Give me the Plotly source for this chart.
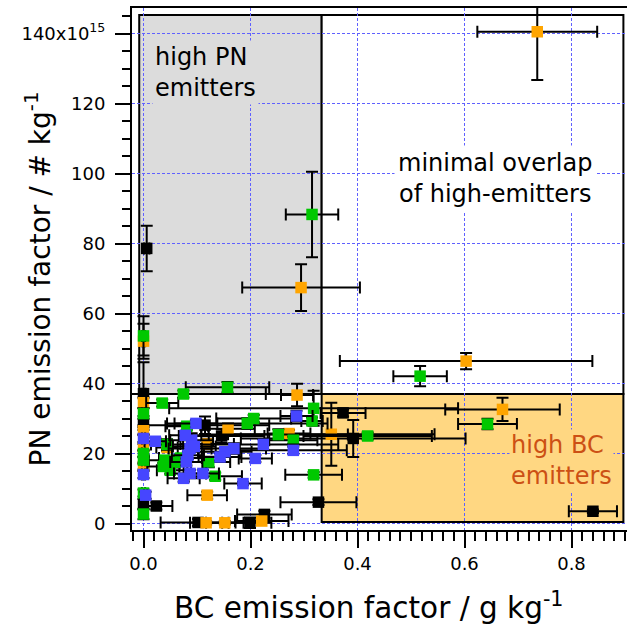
import plotly.graph_objects as go

# ---------------- data (BC EF in g/kg, PN EF in 1e15 #/kg) ----------------
black_x  = [0.006, 0.000, 0.000, 0.000, 0.024, 0.115, 0.146, 0.102, 0.199, 0.226, 0.327, 0.373, 0.392, 0.840]
black_y  = [78.6, 37.1, 28.7, 5.5, 5.0, 28.1, 25.0, 0.3, 0.2, 2.6, 6.1, 31.6, 24.3, 3.5]
black_xe = [0.005, 0.004, 0.003, 0.003, 0.030, 0.120, 0.080, 0.070, 0.040, 0.051, 0.071, 0.042, 0.210, 0.045]
black_ye = [6.5, 9.0, 2.0, 1.5, 1.0, 2.5, 2.0, 1.0, 1.5, 1.0, 0.8, 1.0, 5.3, 0.5]

orange_x  = [0.736, 0.2945, 0.603, 0.000, 0.671, 0.287, 0.351, 0.000, 0.000, 0.000, 0.000, 0.158, 0.272, 0.119, 0.044, 0.119, 0.117, 0.152, 0.221]
orange_y  = [140.5, 67.4, 46.4, 52.1, 32.6, 36.7, 25.5, 34.5, 26.5, 21.7, 16.4, 27.1, 25.7, 22.7, 21.7, 8.1, 0.2, 0.2, 0.7]
orange_xe = [0.112, 0.110, 0.236, 0.003, 0.107, 0.030, 0.193, 0.003, 0.003, 0.003, 0.003, 0.050, 0.040, 0.050, 0.020, 0.037, 0.030, 0.035, 0.050]
orange_ye = [13.8, 6.7, 2.3, 5.0, 3.3, 3.2, 9.0, 1.5, 1.0, 1.0, 1.0, 1.5, 1.0, 1.5, 1.0, 1.0, 0.5, 0.5, 0.5]

green_x  = [0.315, 0.517, 0.643, 0.000, 0.000, 0.000, 0.000, 0.000, 0.000, 0.157, 0.0746, 0.035, 0.318, 0.315, 0.419,
            0.318, 0.206, 0.194, 0.081, 0.252, 0.280, 0.044, 0.040, 0.059, 0.050, 0.069, 0.037, 0.122, 0.134]
green_y  = [88.3, 42.1, 28.4, 53.6, 31.4, 20.0, 18.1, 8.7, 2.7, 38.9, 37.0, 34.4, 32.9, 29.3, 25.0,
            13.9, 30.0, 28.6, 27.8, 25.4, 23.8, 22.6, 18.1, 17.5, 15.2, 18.7, 16.3, 17.6, 13.5]
green_xe = [0.049, 0.050, 0.055, 0.003, 0.003, 0.003, 0.003, 0.003, 0.003, 0.078, 0.154, 0.030, 0.270, 0.020, 0.120,
            0.053, 0.070, 0.150, 0.040, 0.130, 0.045, 0.030, 0.030, 0.030, 0.025, 0.040, 0.030, 0.040, 0.050]
green_ye = [12.2, 2.9, 1.5, 5.6, 1.5, 1.0, 1.0, 1.0, 1.5, 1.5, 1.0, 1.0, 5.0, 1.0, 1.0,
            0.8, 1.0, 1.5, 1.0, 1.5, 1.0, 1.5, 1.0, 1.5, 1.0, 1.0, 1.0, 1.5, 1.0]

blue_x  = [0.000, 0.000, 0.004, 0.286, 0.098, 0.280, 0.224, 0.209, 0.169, 0.152, 0.143, 0.090, 0.087, 0.078,
           0.022, 0.080, 0.111, 0.075, 0.087, 0.186, 0.095, 0.083]
blue_y  = [24.3, 14.0, 8.1, 30.7, 28.6, 20.9, 22.6, 18.6, 21.4, 20.5, 19.0, 23.8, 21.4, 25.2,
           23.5, 17.6, 14.3, 12.9, 14.3, 11.4, 22.0, 19.5]
blue_xe = [0.003, 0.003, 0.003, 0.030, 0.040, 0.100, 0.140, 0.031, 0.060, 0.050, 0.040, 0.040, 0.040, 0.030,
           0.020, 0.030, 0.030, 0.030, 0.030, 0.035, 0.040, 0.030]
blue_ye = [1.0, 1.0, 1.0, 1.5, 1.0, 1.0, 1.5, 1.0, 1.5, 1.0, 1.0, 2.0, 1.0, 1.0,
           1.0, 1.0, 1.0, 1.0, 1.0, 0.5, 1.5, 1.0]

# region thresholds
BC_THRESHOLD = 0.333
PN_THRESHOLD = 37.0

y_tickvals = [0, 20, 40, 60, 80, 100, 120, 140]
y_ticktext = ["0", "20", "40", "60", "80", "100", "120", "140x10<sup>15</sup>"]
x_tickvals = [0.0, 0.2, 0.4, 0.6, 0.8]
x_ticktext = ["0.0", "0.2", "0.4", "0.6", "0.8"]

# ---------------- layout geometry ----------------
W, H = 627, 625
ML, MR, MT, MB = 132, 0, 8, 95
PW, PH = W - ML - MR, H - MT - MB
FONT = "DejaVu Sans, Liberation Sans, Arial, sans-serif"

# axis ranges chosen so that grid lines fall on pixel centres
X_SCALE = 535.0     # px per g/kg
Y_SCALE = 3.5       # px per 1e15 #/kg
x_min = -11.5 / X_SCALE
x_max = x_min + PW / X_SCALE
y_max = 515.5 / Y_SCALE
y_min = y_max - PH / Y_SCALE


def px_x(px):
    return (px - ML) / PW


def px_y(py):
    return (H - MB - py) / PH


fig = go.Figure()

series = [
    ("black", "#000000", black_x, black_y, black_xe, black_ye),
    ("orange", "#FFA500", orange_x, orange_y, orange_xe, orange_ye),
    ("green", "#00C800", green_x, green_y, green_xe, green_ye),
    ("blue", "#4646FF", blue_x, blue_y, blue_xe, blue_ye),
]
for name, col, xs, ys, xe, ye in series:
    fig.add_trace(go.Scatter(
        x=xs, y=ys, mode="markers", name=name, showlegend=False,
        marker=dict(symbol="square", size=11.5, color=col, line=dict(width=0)),
        error_x=dict(type="data", array=xe, visible=True, color="black", thickness=2, width=6),
        error_y=dict(type="data", array=ye, visible=True, color="black", thickness=2, width=6),
    ))

rect_line = dict(color="black", width=2)
fig.add_shape(type="rect", x0=-0.008, x1=BC_THRESHOLD, y0=PN_THRESHOLD, y1=145.3,
              fillcolor="#DCDCDC", line=rect_line, layer="below")
fig.add_shape(type="rect", x0=BC_THRESHOLD, x1=0.897, y0=PN_THRESHOLD, y1=145.3,
              fillcolor="white", line=rect_line, layer="below")
fig.add_shape(type="rect", x0=BC_THRESHOLD, x1=0.897, y0=0.46, y1=PN_THRESHOLD,
              fillcolor="#FFD782", line=rect_line, layer="below")

ann_font = dict(family=FONT, size=24, color="black")
fig.add_annotation(text="high PN<br>emitters", xref="paper", yref="paper",
                   x=px_x(152), y=px_y(72.0), xanchor="left", yanchor="middle",
                   align="left", showarrow=False, font=ann_font,
                   bgcolor="#DCDCDC", borderpad=2)
fig.add_annotation(text="minimal overlap<br>of high-emitters", xref="paper", yref="paper",
                   x=px_x(495), y=px_y(178.5), xanchor="center", yanchor="middle",
                   align="center", showarrow=False, font=ann_font,
                   bgcolor="white", borderpad=3)
fig.add_annotation(text="high BC<br>emitters", xref="paper", yref="paper",
                   x=px_x(509), y=px_y(460.5), xanchor="left", yanchor="middle",
                   align="left", showarrow=False,
                   font=dict(family=FONT, size=24, color="#CC5014"),
                   bgcolor="#FFD782", borderpad=1)

# axis titles
fig.add_annotation(text="BC emission factor / g kg<sup>-1</sup>", xref="paper", yref="paper",
                   x=px_x(368), y=px_y(605.5), xanchor="center", yanchor="middle",
                   showarrow=False, font=dict(family=FONT, size=29.5, color="black"))
fig.add_annotation(text="PN emission factor / # kg<sup>-1</sup>", xref="paper", yref="paper",
                   x=px_x(39.5), y=px_y(279), xanchor="center", yanchor="middle",
                   textangle=-90, showarrow=False, font=dict(family=FONT, size=28, color="black"))

grid_col = "#6060FF"
grid_dash = "3px,2px"
fig.update_xaxes(
    range=[x_min, x_max], showline=True, linecolor="black", linewidth=2, mirror=True,
    tickmode="array", tickvals=x_tickvals, ticktext=x_ticktext,
    ticks="outside", ticklen=16, tickwidth=2, tickcolor="black",
    tickfont=dict(family=FONT, size=18, color="black"),
    showgrid=True, gridcolor=grid_col, gridwidth=1, griddash=grid_dash,
    zeroline=False, automargin=False,
    minor=dict(tickmode="linear", tick0=0, dtick=0.02, ticks="outside", ticklen=9,
               tickwidth=2, tickcolor="black", showgrid=False),
)
fig.update_yaxes(
    range=[y_min, y_max], showline=True, linecolor="black", linewidth=2, mirror=False,
    tickmode="array", tickvals=y_tickvals, ticktext=y_ticktext,
    ticks="outside", ticklen=15, tickwidth=2, tickcolor="black",
    tickfont=dict(family=FONT, size=18, color="black"), ticklabelstandoff=6,
    showgrid=True, gridcolor=grid_col, gridwidth=1, griddash=grid_dash,
    zeroline=False, automargin=False,
    minor=dict(tickmode="linear", tick0=0, dtick=5, ticks="outside", ticklen=8,
               tickwidth=2, tickcolor="black", showgrid=False),
)

fig.update_layout(
    width=W, height=H,
    margin=dict(l=ML, r=MR, t=MT, b=MB, pad=0),
    plot_bgcolor="white", paper_bgcolor="white",
    font=dict(family=FONT, color="black"),
    showlegend=False,
)

post = (
    "document.body.style.margin='0px';document.body.style.padding='0px';"
    "var st=document.createElement('style');"
    "st.textContent='.js-plotly-plot .gridlayer path{shape-rendering:crispEdges !important;}';"
    "document.head.appendChild(st);"
)
fig.write_html("out.html", config={"displayModeBar": False}, post_script=post)
